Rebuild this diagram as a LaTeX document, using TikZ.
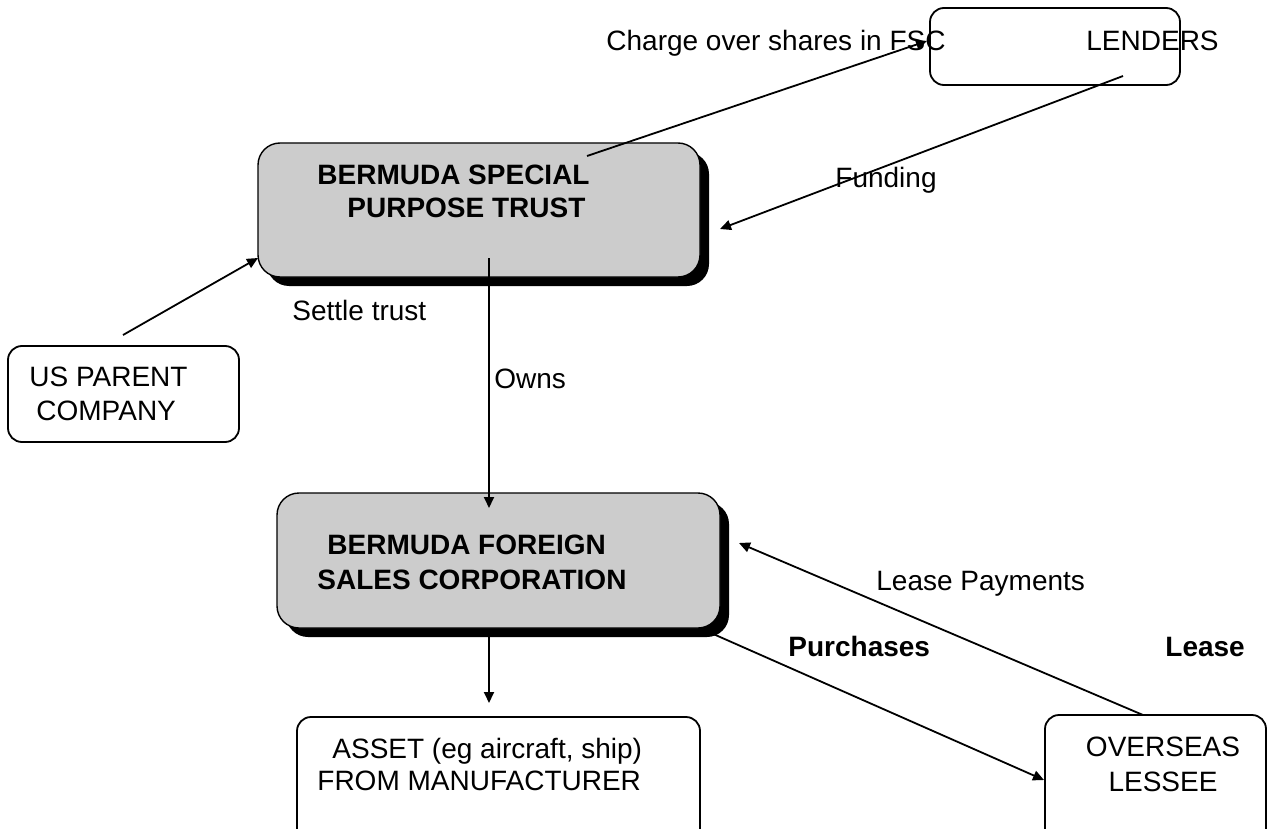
\documentclass[tikz,border=0pt]{standalone}
\usepackage{fontspec}
\setmainfont{Liberation Sans}
\usetikzlibrary{arrows.meta,shadows}
\definecolor{boxgray}{RGB}{204,204,204}
\begin{document}
\begin{tikzpicture}[x=0.5pt,y=-0.5pt,
  font=\fontsize{14}{17}\selectfont,
  plainbox/.style={draw=black,line width=0.9pt,rounded corners=7pt,inner sep=0pt,outer sep=0pt},
  graybox/.style={draw=black,line width=0.7pt,fill=boxgray,rounded corners=11pt,inner sep=0pt,outer sep=0pt,
     drop shadow={shadow xshift=4.5pt,shadow yshift=-4.5pt,fill=black,opacity=1}},
  lbl/.style={inner sep=0pt,anchor=base west},
  txt/.style={inner sep=0pt,anchor=west,align=left},
  boldfont/.style={font=\fontsize{14}{17}\selectfont\bfseries},
  conn/.style={line width=0.9pt,-{Triangle[length=5.5pt,width=5pt]}}
]
\useasboundingbox (0,0) rectangle (1274,829);

% boxes
\node[graybox,minimum width=221pt,minimum height=67pt] (trust) at (479,210) {};
\node[graybox,minimum width=221.5pt,minimum height=67.5pt] (fsc) at (498.5,560.5) {};
\node[plainbox,minimum width=125pt,minimum height=38.5pt] (lenders) at (1055,46.5) {};
\node[plainbox,minimum width=115.5pt,minimum height=48pt] (parent) at (123.5,394) {};
\node[plainbox,minimum width=201.5pt,minimum height=71.5pt] (asset) at (498.5,788.5) {};
\node[plainbox,minimum width=110.5pt,minimum height=72.5pt] (lessee) at (1155.5,787.5) {};

% texts
\node[txt,boldfont,font=\fontsize{14}{16.5}\selectfont\bfseries] (trusttxt) at (317,191.5) {BERMUDA SPECIAL\\\hspace*{15pt}PURPOSE TRUST};
\node[txt,font=\fontsize{14}{17.5}\selectfont\bfseries] (fsctxt) at (317,562.5) {\hspace*{5pt}BERMUDA FOREIGN\\SALES CORPORATION};
\node[txt] (parenttxt) at (29,394) {US PARENT\\\hspace*{3.5pt}COMPANY};
\node[txt,font=\fontsize{14}{16}\selectfont] (assettxt) at (317,764) {\hspace*{7.5pt}ASSET (eg aircraft, ship)\\FROM MANUFACTURER};
\node[inner sep=0pt,align=center,font=\fontsize{14}{17.5}\selectfont] (lesseetxt) at (1163,764.5) {OVERSEAS\\LESSEE};
\node[lbl] (chargetxt) at (606,51) {Charge over shares in FSC};
\node[lbl] (lenderstxt) at (1086,51) {LENDERS};
\node[lbl] (fundtxt) at (835,187) {Funding};
\node[lbl] (settletxt) at (292,320) {Settle trust};
\node[lbl] (ownstxt) at (494,388) {Owns};
\node[lbl] (lptxt) at (876,590) {Lease Payments};
\node[lbl,boldfont] (purtxt) at (788,656) {Purchases};
\node[lbl,boldfont] (leasetxt) at (1165,656) {Lease};

% connector end points
\coordinate (chA) at (587,156);
\coordinate (chB) at (927,41);
\coordinate (fuA) at (1123,76);
\coordinate (fuB) at (720,229);
\coordinate (seA) at (123,335);
\coordinate (seB) at (258,258);
\coordinate (owA) at (489,258);
\coordinate (owB) at (489,508);
\coordinate (asA) at (489,636);
\coordinate (asB) at (489,703);
\coordinate (puA) at (711,633);
\coordinate (puB) at (1044,780);
\coordinate (lpA) at (1143,715);
\coordinate (lpB) at (739,543);

% connectors
\draw[conn] (chA) -- (chB);
\draw[conn] (fuA) -- (fuB);
\draw[conn] (seA) -- (seB);
\draw[conn] (owA) -- (owB);
\draw[conn] (asA) -- (asB);
\draw[conn] (puA) -- (puB);
\draw[conn] (lpA) -- (lpB);
\end{tikzpicture}
\end{document}
